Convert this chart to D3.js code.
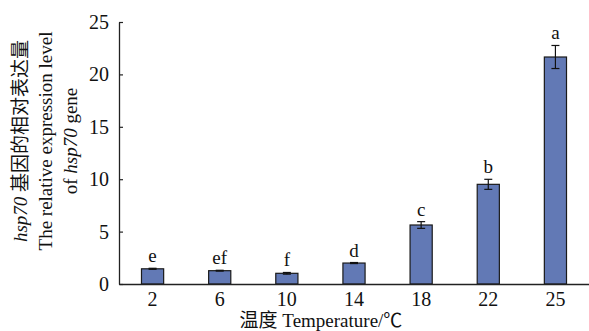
<!DOCTYPE html>
<html>
<head>
<meta charset="utf-8">
<script src="https://cdn.jsdelivr.net/npm/d3@7"></script>
<style>
  body { margin: 0; background: #fff; }
  text { font-family: "Liberation Serif", "Noto Sans CJK SC", serif; fill: #111; }
</style>
</head>
<body>
<script>
var width = 589, height = 331;

// data
const temps   = ["2", "6", "10", "14", "18", "22", "25"];
const values  = [1.45, 1.27, 1.02, 2.0, 5.63, 9.51, 21.66];
const errors  = [0.05, 0.04, 0.08, 0.05, 0.32, 0.48, 1.1];
const letters = ["e", "ef", "f", "d", "c", "b", "a"];
const yTicks  = [0, 5, 10, 15, 20, 25];

let svg = d3.select('body').append("svg")
    .attr("width", width).attr("height", height);

const x = d3.scaleBand()
    .domain(temps)
    .range([119, 589])
    .paddingInner(0.67)
    .paddingOuter(0.335);

const y = d3.scaleLinear()
    .domain([0, 25])
    .range([284, 22]);

// bars
svg.selectAll('.bar')
    .data(values)
    .enter()
    .append('rect')
    .attr('class', 'bar')
    .attr('x', (d,i) => x(temps[i]))
    .attr('y', d => y(d))
    .attr('width', x.bandwidth())
    .attr('height', d => y(0) - y(d))
    .attr('fill', '#6279b5')
    .attr('stroke', '#1a1a1a')
    .attr('stroke-width', 1.2);

// error bars
let gErr = svg.selectAll('.err')
    .data(values)
    .enter()
    .append('g')
    .attr('class', 'err')
    .attr('stroke', '#111')
    .attr('stroke-width', 1.2);

gErr.append('line')
    .attr('x1', (d,i) => x(temps[i]) + x.bandwidth()/2)
    .attr('x2', (d,i) => x(temps[i]) + x.bandwidth()/2)
    .attr('y1', (d,i) => y(d + errors[i]))
    .attr('y2', (d,i) => y(d - errors[i]));

[1, -1].forEach(s => {
    gErr.append('line')
        .attr('x1', (d,i) => x(temps[i]) + x.bandwidth()/2 - 4)
        .attr('x2', (d,i) => x(temps[i]) + x.bandwidth()/2 + 4)
        .attr('y1', (d,i) => y(d + s*errors[i]))
        .attr('y2', (d,i) => y(d + s*errors[i]));
});

// significance letters
svg.selectAll('.letter')
    .data(letters)
    .enter()
    .append('text')
    .attr('class', 'letter')
    .attr('x', (d,i) => x(temps[i]) + x.bandwidth()/2)
    .attr('y', (d,i) => y(values[i] + errors[i]) - 6)
    .attr('text-anchor', 'middle')
    .attr('font-size', 19)
    .text(d => d);

// axes
let gx = svg.append('g')
    .attr('transform', `translate(0,${y(0)})`)
    .call(d3.axisBottom(x).tickSize(0).tickPadding(8));

let gy = svg.append('g')
    .attr('transform', 'translate(119,0)')
    .call(d3.axisLeft(y).tickValues(yTicks).tickSizeInner(-4).tickSizeOuter(0).tickPadding(10));

[gx, gy].forEach(g => {
    g.select('.domain').attr('stroke', '#222').attr('stroke-width', 1.3);
    g.selectAll('.tick line').attr('stroke', '#222').attr('stroke-width', 1.2);
    g.selectAll('.tick text')
        .attr('font-size', 20)
        .attr('font-family', '"Liberation Serif", serif')
        .attr('fill', '#111');
});

// axis titles
svg.append('text')
    .attr('x', 321).attr('y', 327)
    .attr('text-anchor', 'middle')
    .attr('font-size', 19)
    .text('温度 Temperature/℃');

// y title, three lines
const titleLines = [
    [['hsp70', true], [' 基因的相对表达量', false]],
    [['The relative expression level', false]],
    [['of ', false], ['hsp70', true], [' gene', false]]
];

let gTitle = svg.append('g')
    .attr('transform', 'translate(0,141) rotate(-90)');

titleLines.forEach((parts, k) => {
    let t = gTitle.append('text')
        .attr('x', 0)
        .attr('y', 27 + k*25)
        .attr('font-size', 19)
        .attr('text-anchor', 'middle');
    parts.forEach(p => {
        t.append('tspan')
            .attr('font-style', p[1] ? 'italic' : 'normal')
            .text(p[0]);
    });
});
</script>
</body>
</html>
